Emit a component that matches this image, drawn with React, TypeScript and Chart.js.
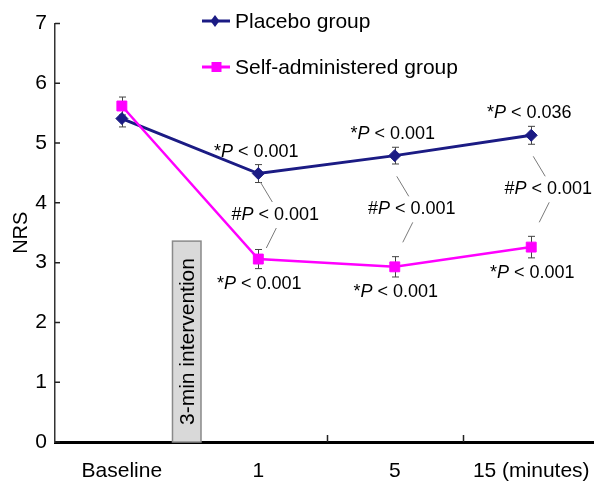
import React, { useEffect, useRef } from "react";
import { Chart, registerables } from "chart.js";

Chart.register(...registerables);

// ---------- data ----------
const categories = ["Baseline", "1", "5", "15 (minutes)"];
const seriesNames = ["Placebo group", "Self-administered group"];
const placeboMeans = [5.41, 4.49, 4.79, 5.13];
const placeboErrors = [0.14, 0.15, 0.14, 0.15];
const selfMeans = [5.62, 3.06, 2.93, 3.26];
const selfErrors = [0.15, 0.16, 0.17, 0.18];
const placeboPLabels = ["", "*P < 0.001", "*P < 0.001", "*P < 0.036"];
const selfPLabels = ["", "*P < 0.001", "*P < 0.001", "*P < 0.001"];
const betweenPLabels = ["", "#P < 0.001", "#P < 0.001", "#P < 0.001"];
const yTickValues = [0, 1, 2, 3, 4, 5, 6, 7];
const interventionLabel = "3-min intervention";

// ---------- styles ----------
const FONT = "'Liberation Sans', Arial, Helvetica, sans-serif";
const NAVY = "#1b1b84";
const MAGENTA = "#ff00ff";

function drawMixed(ctx: CanvasRenderingContext2D, text: string, cx: number, cy: number, size: number) {
  const idx = text.indexOf("P");
  const parts = [
    { t: text.slice(0, idx), italic: false },
    { t: "P", italic: true },
    { t: text.slice(idx + 1), italic: false },
  ];
  const widths = parts.map((p) => {
    ctx.font = `${p.italic ? "italic " : ""}${size}px ${FONT}`;
    return ctx.measureText(p.t).width;
  });
  const total = widths.reduce((a, b) => a + b, 0);
  let x = cx - total / 2;
  ctx.textBaseline = "middle";
  ctx.textAlign = "left";
  ctx.fillStyle = "#000";
  parts.forEach((p, i) => {
    ctx.font = `${p.italic ? "italic " : ""}${size}px ${FONT}`;
    ctx.fillText(p.t, x, cy);
    x += widths[i];
  });
}

const decorPlugin = {
  id: "decor",
  beforeDatasetsDraw(chart: any) {
    const { ctx, chartArea, scales } = chart;
    const xs = scales.x;
    const ys = scales.y;
    ctx.save();
    // intervention box
    const bx0 = xs.getPixelForValue(0.371);
    const bx1 = xs.getPixelForValue(0.58);
    const by0 = ys.getPixelForValue(3.36);
    const by1 = chartArea.bottom;
    ctx.fillStyle = "#d9d9d9";
    ctx.fillRect(bx0, by0, bx1 - bx0, by1 - by0);
    ctx.strokeStyle = "#8a8a8a";
    ctx.lineWidth = 1.5;
    ctx.strokeRect(bx0, by0, bx1 - bx0, by1 - by0);
    ctx.translate((bx0 + bx1) / 2 + 1, by1 - 17);
    ctx.rotate(-Math.PI / 2);
    ctx.font = `21px ${FONT}`;
    ctx.fillStyle = "#000";
    ctx.textAlign = "left";
    ctx.textBaseline = "middle";
    ctx.fillText(interventionLabel, 0, 0);
    ctx.restore();

    // error bars
    ctx.save();
    ctx.strokeStyle = "#444";
    ctx.lineWidth = 1;
    const groups = [
      [placeboMeans, placeboErrors],
      [selfMeans, selfErrors],
    ];
    groups.forEach(([m, e]) => {
      m.forEach((v, i) => {
        const px = Math.round(xs.getPixelForValue(i)) + 0.5;
        const t = ys.getPixelForValue(v + e[i]);
        const b = ys.getPixelForValue(v - e[i]);
        ctx.beginPath();
        ctx.moveTo(px, t);
        ctx.lineTo(px, b);
        ctx.moveTo(px - 3.5, t);
        ctx.lineTo(px + 3.5, t);
        ctx.moveTo(px - 3.5, b);
        ctx.lineTo(px + 3.5, b);
        ctx.stroke();
      });
    });
    ctx.restore();
  },
  afterDatasetsDraw(chart: any) {
    const { ctx, scales } = chart;
    const xs = scales.x;
    const ys = scales.y;
    ctx.save();
    categories.forEach((_, i) => {
      const px = xs.getPixelForValue(i);
      if (placeboPLabels[i]) {
        const t = ys.getPixelForValue(placeboMeans[i] + placeboErrors[i]);
        drawMixed(ctx, placeboPLabels[i], px - 2, t - 13, 18);
      }
      if (selfPLabels[i]) {
        const b = ys.getPixelForValue(selfMeans[i] - selfErrors[i]);
        drawMixed(ctx, selfPLabels[i], px + 1, b + 15, 18);
      }
      if (betweenPLabels[i]) {
        const yl = ys.getPixelForValue(placeboMeans[i] - placeboErrors[i]);
        const yh = ys.getPixelForValue(selfMeans[i] + selfErrors[i]);
        const ly = (yl + yh) / 2 - 1;
        const lx = px + 17;
        ctx.strokeStyle = "#7a7a7a";
        ctx.lineWidth = 1;
        ctx.beginPath();
        ctx.moveTo(lx - 15, ly - 33);
        ctx.lineTo(lx - 3, ly - 13);
        ctx.moveTo(lx + 1, ly + 13);
        ctx.lineTo(lx - 9, ly + 33);
        ctx.stroke();
        drawMixed(ctx, betweenPLabels[i], lx, ly, 18);
      }
    });
    ctx.restore();
  },
  afterDraw(chart: any) {
    const { ctx, chartArea, scales } = chart;
    const xs = scales.x;
    const ys = scales.y;
    ctx.save();
    // inward ticks
    ctx.strokeStyle = "#222";
    ctx.lineWidth = 1.5;
    ctx.beginPath();
    yTickValues.forEach((v) => {
      const py = ys.getPixelForValue(v);
      ctx.moveTo(chartArea.left, py);
      ctx.lineTo(chartArea.left + 5, py);
    });
    [1.5, 2.5].forEach((v) => {
      const px = Math.round(xs.getPixelForValue(v)) + 0.5;
      ctx.moveTo(px, chartArea.bottom);
      ctx.lineTo(px, chartArea.bottom - 7);
    });
    ctx.stroke();

    // legend
    const colors = [NAVY, MAGENTA];
    const rows = [21, 67];
    seriesNames.forEach((name, i) => {
      const y = rows[i];
      ctx.strokeStyle = colors[i];
      ctx.fillStyle = colors[i];
      ctx.lineWidth = 3;
      ctx.beginPath();
      ctx.moveTo(202, y);
      ctx.lineTo(230, y);
      ctx.stroke();
      ctx.beginPath();
      if (i === 0) {
        ctx.moveTo(215, y - 6);
        ctx.lineTo(219.5, y);
        ctx.lineTo(215, y + 6);
        ctx.lineTo(210.5, y);
        ctx.closePath();
      } else {
        ctx.rect(211.5, y - 5, 10, 10);
      }
      ctx.fill();
      ctx.font = `21px ${FONT}`;
      ctx.fillStyle = "#000";
      ctx.textAlign = "left";
      ctx.textBaseline = "middle";
      ctx.fillText(name, 235, y + 1);
    });
    ctx.restore();
  },
};

export default function App() {
  const ref = useRef<HTMLCanvasElement | null>(null);
  useEffect(() => {
    if (!ref.current) return;
    const chart = new Chart(ref.current, {
      type: "line",
      data: {
        datasets: [
          {
            label: seriesNames[0],
            data: placeboMeans.map((v, i) => ({ x: i, y: v })),
            borderColor: NAVY,
            backgroundColor: NAVY,
            borderWidth: 3,
            pointStyle: "rectRot",
            pointRadius: 6,
            pointBorderWidth: 1,
            pointBackgroundColor: NAVY,
            pointBorderColor: NAVY,
            order: 1,
          },
          {
            label: seriesNames[1],
            data: selfMeans.map((v, i) => ({ x: i, y: v })),
            borderColor: MAGENTA,
            backgroundColor: MAGENTA,
            borderWidth: 2.5,
            pointStyle: "rect",
            pointRadius: 7,
            pointBorderWidth: 1,
            pointBackgroundColor: MAGENTA,
            pointBorderColor: MAGENTA,
            order: 0,
          },
        ],
      },
      options: {
        responsive: false,
        animation: false,
        devicePixelRatio: 1,
        layout: { autoPadding: false, padding: { left: 0, top: 23.5, right: 0, bottom: 0 } },
        plugins: { legend: { display: false }, tooltip: { enabled: false } },
        scales: {
          x: {
            type: "linear",
            min: -0.49,
            max: 3.46,
            afterBuildTicks: (s: any) => {
              s.ticks = categories.map((_, i) => ({ value: i }));
            },
            afterFit: (s: any) => {
              s.height = 42;
              s.paddingLeft = 0;
              s.paddingRight = 0;
            },
            ticks: {
              callback: (v: any) => categories[v as number] ?? "",
              font: { size: 21, family: FONT },
              color: "#000",
              padding: 17,
              maxRotation: 0,
              autoSkip: false,
            },
            grid: { display: false, drawTicks: false },
            border: { display: true, color: "#000", width: 3 },
          },
          y: {
            min: 0,
            max: 7,
            afterBuildTicks: (s: any) => {
              s.ticks = yTickValues.map((v) => ({ value: v }));
            },
            afterFit: (s: any) => {
              s.width = 55;
            },
            ticks: {
              font: { size: 21, family: FONT },
              color: "#000",
              padding: 8,
            },
            grid: { display: false, drawTicks: false },
            border: { display: true, color: "#333", width: 1.5 },
            title: {
              display: true,
              text: "NRS",
              font: { size: 20, family: FONT },
              color: "#000",
              padding: { top: 9, bottom: 0 },
            },
          },
        },
      } as any,
      plugins: [decorPlugin],
    });
    return () => chart.destroy();
  }, []);
  return (
    <div style={{ position: "absolute", left: 0, top: 0, width: 594, height: 484, background: "#fff" }}>
      <canvas ref={ref} width={594} height={484} style={{ display: "block" }} />
    </div>
  );
}
